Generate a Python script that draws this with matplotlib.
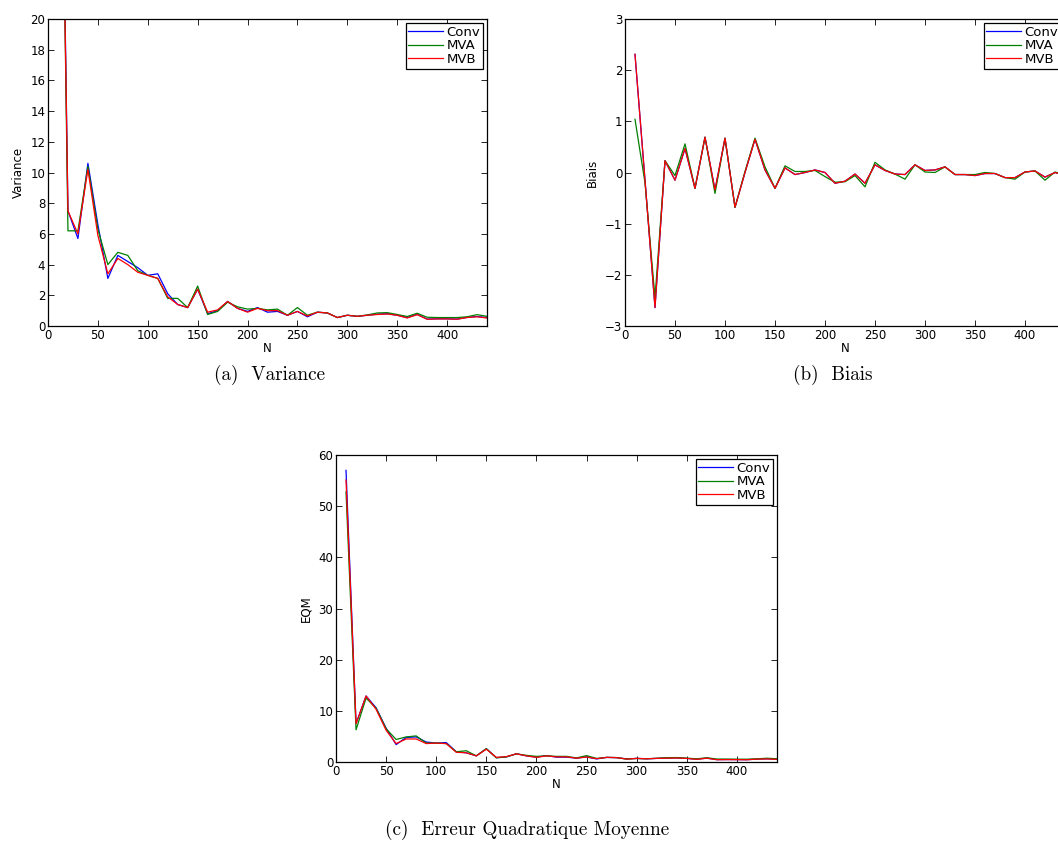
import matplotlib
matplotlib.use('Agg')
import matplotlib.pyplot as plt

N = [10, 20, 30, 40, 50, 60, 70, 80, 90, 100, 110, 120, 130, 140, 150, 160, 170, 180, 190, 200, 210, 220,
     230, 240, 250, 260, 270, 280, 290, 300, 310, 320, 330, 340, 350, 360, 370, 380, 390, 400, 410, 420, 430, 440]
labels = ['Conv', 'MVA', 'MVB']
colors = ['#0000ff', '#008000', '#ff0000']

var_conv = [51.7, 7.5, 5.7, 10.6, 6.6, 3.1, 4.6, 4.2, 3.8, 3.3, 3.4, 2.1, 1.4, 1.2, 2.4, 0.8, 1.0, 1.6, 1.15, 0.95,
            1.2, 0.9, 0.95, 0.7, 0.95, 0.6, 0.9, 0.85, 0.55, 0.7, 0.63, 0.7, 0.77, 0.8, 0.7, 0.55, 0.76, 0.45,
            0.47, 0.47, 0.45, 0.56, 0.62, 0.55]
var_mva = [51.7, 6.2, 6.2, 10.4, 6.3, 4.0, 4.8, 4.6, 3.6, 3.3, 3.1, 1.8, 1.8, 1.2, 2.6, 0.75, 0.95, 1.55, 1.25, 1.1,
           1.15, 1.05, 1.1, 0.7, 1.2, 0.7, 0.9, 0.85, 0.55, 0.7, 0.63, 0.72, 0.85, 0.87, 0.75, 0.62, 0.83, 0.57,
           0.55, 0.55, 0.55, 0.6, 0.74, 0.63]
var_mvb = [49.7, 7.5, 6.0, 10.2, 5.9, 3.4, 4.4, 4.0, 3.5, 3.3, 3.1, 1.9, 1.4, 1.2, 2.4, 0.9, 1.05, 1.6, 1.15, 0.9,
           1.15, 1.0, 1.0, 0.7, 0.95, 0.65, 0.9, 0.85, 0.55, 0.7, 0.63, 0.7, 0.75, 0.78, 0.7, 0.52, 0.74, 0.44,
           0.46, 0.46, 0.44, 0.55, 0.6, 0.52]

bias_conv = [2.31, -0.15, -2.64, 0.23, -0.15, 0.47, -0.31, 0.69, -0.34, 0.67, -0.68, 0.0, 0.65, 0.05, -0.31,
             0.09, -0.04, 0.0, 0.05, 0.0, -0.21, -0.17, -0.03, -0.21, 0.15, 0.04, -0.03, -0.04, 0.15, 0.04, 0.05,
             0.11, -0.04, -0.04, -0.06, -0.02, -0.02, -0.1, -0.1, 0.01, 0.03, -0.09, 0.0, -0.05]
bias_mva = [1.04, -0.2, -2.45, 0.23, -0.06, 0.56, -0.31, 0.69, -0.41, 0.67, -0.68, 0.02, 0.67, 0.11, -0.31,
            0.13, 0.02, 0.02, 0.04, -0.08, -0.19, -0.18, -0.06, -0.28, 0.2, 0.05, -0.03, -0.13, 0.15, 0.01, 0.0,
            0.11, -0.04, -0.04, -0.04, 0.0, -0.02, -0.1, -0.13, 0.01, 0.03, -0.15, 0.01, -0.05]
bias_mvb = [2.31, -0.15, -2.64, 0.23, -0.15, 0.47, -0.31, 0.69, -0.34, 0.67, -0.68, 0.0, 0.65, 0.05, -0.31,
            0.09, -0.04, 0.0, 0.05, 0.0, -0.21, -0.17, -0.03, -0.21, 0.15, 0.04, -0.03, -0.04, 0.15, 0.04, 0.05,
            0.11, -0.04, -0.04, -0.06, -0.02, -0.02, -0.1, -0.1, 0.01, 0.03, -0.09, 0.0, -0.05]

eqm_conv = [57.0, 7.5, 12.9, 10.6, 6.6, 3.4, 4.8, 4.9, 3.9, 3.7, 3.8, 2.0, 1.8, 1.2, 2.6, 0.85, 1.0, 1.6, 1.2, 0.95,
            1.25, 0.95, 0.95, 0.75, 1.0, 0.6, 0.9, 0.85, 0.6, 0.7, 0.63, 0.7, 0.77, 0.8, 0.7, 0.55, 0.76, 0.46,
            0.48, 0.47, 0.45, 0.57, 0.62, 0.55]
eqm_mva = [52.8, 6.3, 12.5, 10.5, 6.5, 4.4, 4.9, 5.1, 3.7, 3.7, 3.6, 2.0, 2.2, 1.2, 2.6, 0.8, 1.0, 1.6, 1.3, 1.1,
           1.2, 1.1, 1.1, 0.8, 1.25, 0.7, 0.9, 0.87, 0.57, 0.7, 0.63, 0.73, 0.85, 0.87, 0.75, 0.62, 0.83, 0.58,
           0.57, 0.55, 0.55, 0.62, 0.74, 0.63]
eqm_mvb = [55.1, 7.5, 12.9, 10.3, 6.2, 3.6, 4.5, 4.5, 3.6, 3.7, 3.6, 1.9, 1.8, 1.2, 2.5, 0.9, 1.05, 1.6, 1.2, 0.9,
           1.2, 1.0, 1.0, 0.75, 0.97, 0.65, 0.9, 0.85, 0.57, 0.7, 0.63, 0.71, 0.75, 0.78, 0.7, 0.52, 0.74, 0.45,
           0.47, 0.46, 0.44, 0.56, 0.6, 0.52]

plt.rcParams['font.family'] = 'DejaVu Sans'
plt.rcParams['font.size'] = 8.5


def panel(fig, rect, series, ylabel, ylim, yticks, caption, cap_xy):
    ax = fig.add_axes(rect)
    for ys, lab, col in zip(series, labels, colors):
        ax.plot(N, ys, color=col, lw=0.9, label=lab)
    ax.set_xlim(0, 440)
    ax.set_ylim(*ylim)
    ax.set_xticks([0, 50, 100, 150, 200, 250, 300, 350, 400])
    ax.set_yticks(yticks)
    ax.tick_params(direction='in', length=4, width=0.6, top=True, right=True, pad=2)
    for sp in ax.spines.values():
        sp.set_linewidth(0.9)
    ax.set_xlabel('N', labelpad=0)
    ax.set_ylabel(ylabel, labelpad=4)
    leg = ax.legend(loc='upper right', fancybox=False, edgecolor='black', framealpha=1,
                    borderpad=0.2, labelspacing=0.05, handlelength=2.6, handletextpad=0.3,
                    borderaxespad=0.3, fontsize=9.5)
    leg.get_frame().set_linewidth(0.9)
    fig.text(cap_xy[0], cap_xy[1], caption, family='cmr10', fontsize=13.8, ha='center', va='center')
    return ax


fig = plt.figure(figsize=(10.58, 8.48), dpi=100)
panel(fig, [48 / 1058, 522 / 848, 439 / 1058, 307 / 848], [var_conv, var_mva, var_mvb],
      'Variance', (0, 20), range(0, 21, 2), '(a)  Variance', (270 / 1058, 1 - 375 / 848))
panel(fig, [625 / 1058, 522 / 848, 440 / 1058, 307 / 848], [bias_conv, bias_mva, bias_mvb],
      'Biais', (-3, 3), range(-3, 4), '(b)  Biais', (833 / 1058, 1 - 375 / 848))
panel(fig, [336 / 1058, 86 / 848, 441 / 1058, 307 / 848], [eqm_conv, eqm_mva, eqm_mvb],
      'EQM', (0, 60), range(0, 61, 10), '(c)  Erreur Quadratique Moyenne', (527 / 1058, 1 - 830 / 848))

fig.savefig('out.png', dpi=100)
